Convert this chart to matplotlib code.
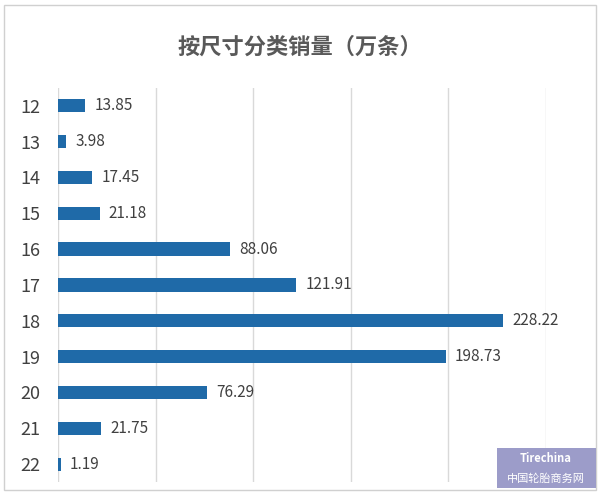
import matplotlib
matplotlib.use('Agg')
import matplotlib.pyplot as plt
from matplotlib.patches import Rectangle

plt.rcParams['font.family'] = ['Noto Sans CJK SC', 'DejaVu Sans']

# data
sizes = ['12', '13', '14', '15', '16', '17', '18', '19', '20', '21', '22']
sales = [13.85, 3.98, 17.45, 21.18, 88.06, 121.91, 228.22, 198.73, 76.29, 21.75, 1.19]
title = '按尺寸分类销量（万条）'

fig = plt.figure(figsize=(6.0, 4.96), dpi=100)
ax = fig.add_axes([0.097, 0.028, 0.8125, 0.795])

pos = list(range(len(sizes)))
ax.barh(pos, sales, height=0.37, color='#1f6aa8', zorder=3)
for p, v in zip(pos, sales):
    ax.text(v + 4.8, p, f'{v:.2f}', va='center', ha='left', fontsize=11, color='#404040')

ax.set_xlim(0, 250)
ax.set_ylim(len(sizes) - 0.5, -0.5)
ax.set_yticks(pos)
ax.set_yticklabels(sizes, fontsize=13, color='#404040')
ax.set_xticks([0, 50, 100, 150, 200, 250])
ax.tick_params(axis='x', labelbottom=False, length=0)
ax.tick_params(axis='y', length=0, pad=13)
ax.grid(axis='x', color='#d9d9d9', linewidth=1, zorder=0)
for s in ax.spines.values():
    s.set_visible(False)

fig.text(0.5, 0.905, title, ha='center', va='center', fontsize=16,
         fontweight='bold', color='#595959')

# outer frame
fig.patches.append(Rectangle((0.006, 0.012), 0.988, 0.978, transform=fig.transFigure,
                             fill=False, edgecolor='#d0d0d0', linewidth=1))

# watermark box
fig.patches.append(Rectangle((0.828, 0.016), 0.166, 0.08, transform=fig.transFigure,
                             facecolor='#9c9cc9', edgecolor='none', zorder=5))
fig.text(0.91, 0.075, 'Tirechina', ha='center', va='center', fontsize=8,
         fontstyle='italic', fontweight='bold', color='white', zorder=6)
fig.text(0.91, 0.035, '中国轮胎商务网', ha='center', va='center', fontsize=8,
         color='white', zorder=6)

fig.savefig('out.png', dpi=100)
